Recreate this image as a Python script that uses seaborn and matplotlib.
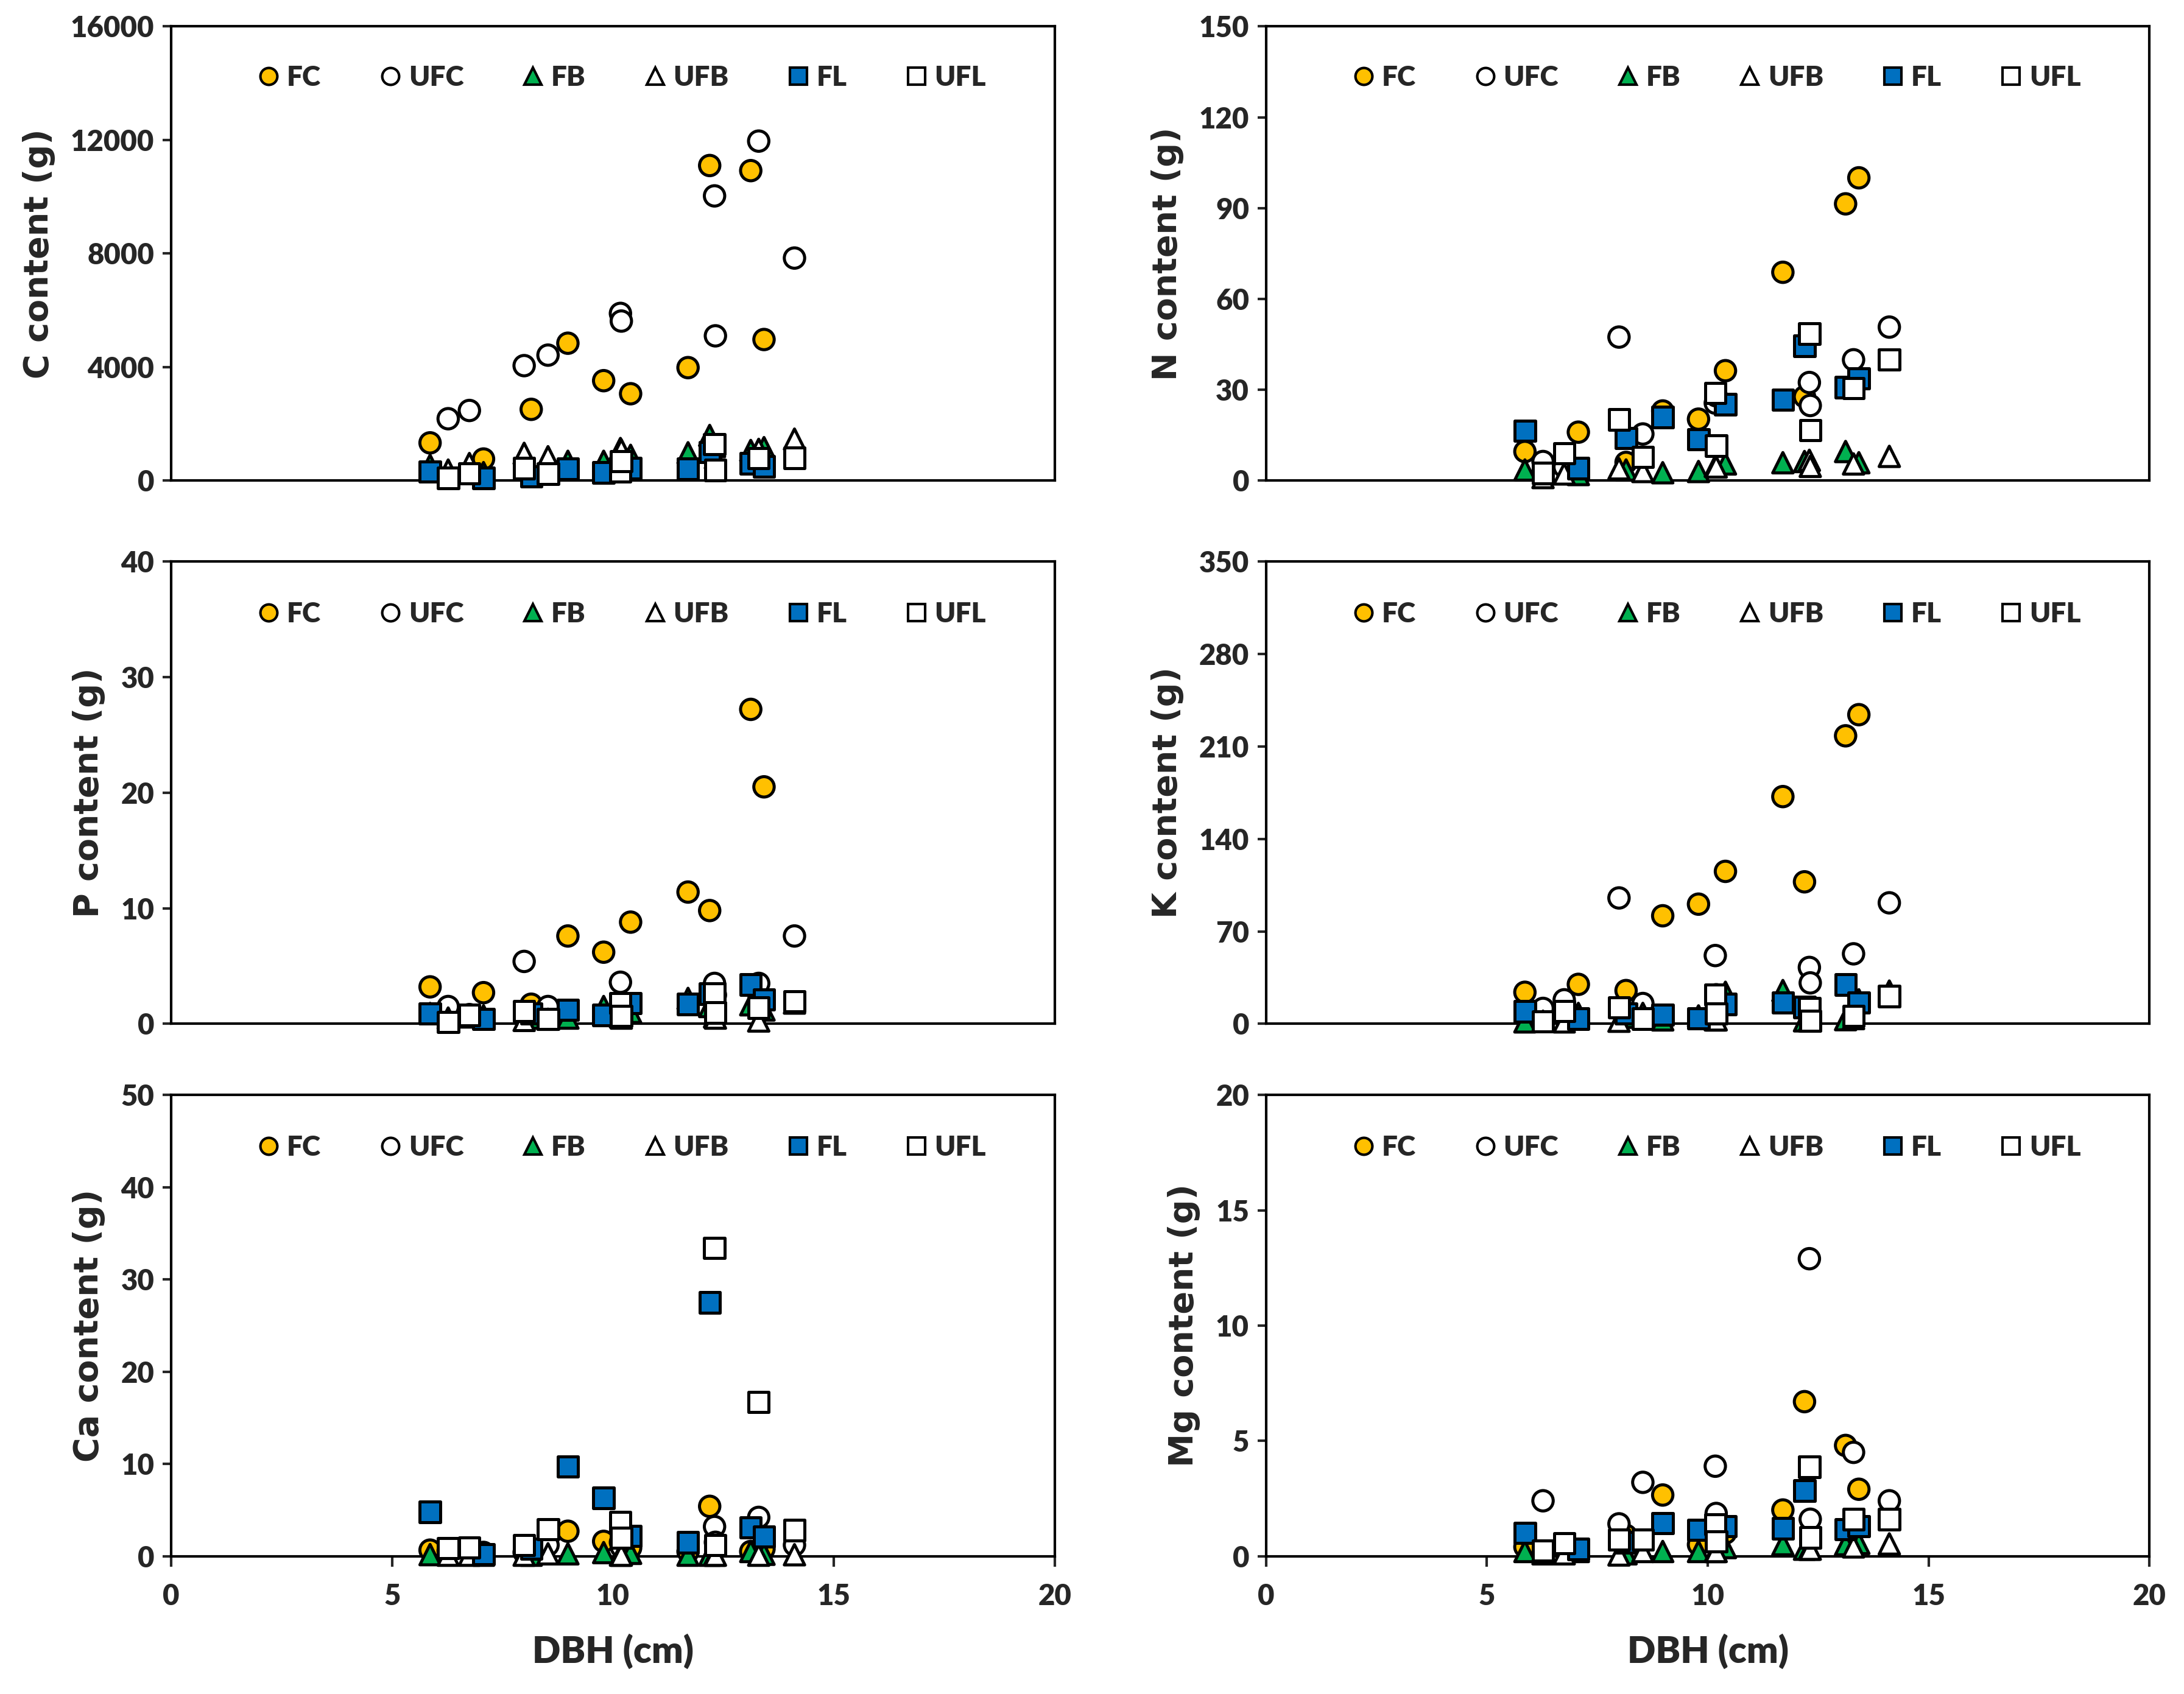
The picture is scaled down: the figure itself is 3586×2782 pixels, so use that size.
import pandas as pd
import matplotlib
matplotlib.use("Agg")
import matplotlib.pyplot as plt
from matplotlib.lines import Line2D
import seaborn as sns

# DBH (cm) of the fertilized (F) and unfertilized (UF) trees
F_DBH = [5.86, 7.07, 8.15, 8.98, 9.79, 10.40, 11.70, 12.19, 13.12, 13.42]
UF_DBH = [6.27, 6.75, 7.99, 8.53, 10.17, 10.19, 12.30, 12.32, 13.30, 14.11]

SERIES = ['FC', 'UFC', 'FB', 'UFB', 'FL', 'UFL']
COLORS = {'FC': '#FFC000', 'UFC': '#FFFFFF', 'FB': '#00B050',
          'UFB': '#FFFFFF', 'FL': '#0070C0', 'UFL': '#FFFFFF'}
MARKERS = {'FC': 'o', 'UFC': 'o', 'FB': '^', 'UFB': '^', 'FL': 's', 'UFL': 's'}

# nutrient contents (g), one list per series, in DBH order
C_FC = [1330, 760, 2510, 4840, 3520, 3060, 3980, 11100, 10920, 4970]
C_UFC = [2180, 2470, 4050, 4420, 5890, 5620, 10030, 5100, 11960, 7840]
C_FB = [540, 280, 420, 680, 680, 890, 980, 1590, 1060, 1160]
C_UFB = [370, 600, 960, 840, 1130, 1080, 1200, 800, 1100, 1460]
C_FL = [320, 90, 150, 410, 280, 430, 410, 1000, 610, 500]
C_UFL = [90, 250, 430, 240, 330, 680, 1280, 370, 790, 800]

N_FC = [9.6, 16.0, 6.0, 23.0, 20.3, 36.3, 68.8, 27.7, 91.4, 100.0]
N_UFC = [6.3, 4.5, 47.4, 15.4, 25.6, 28.0, 32.4, 24.8, 39.9, 50.7]
N_FB = [3.5, 2.0, 3.5, 2.6, 3.0, 5.5, 5.9, 6.3, 9.6, 5.9]
N_UFB = [1.0, 2.2, 3.9, 3.0, 4.7, 4.5, 6.7, 4.7, 5.5, 8.0]
N_FL = [16.4, 4.1, 14.0, 21.0, 13.6, 25.2, 26.7, 44.5, 30.8, 33.7]
N_UFL = [2.5, 9.0, 20.2, 7.8, 28.9, 11.5, 48.5, 16.6, 30.5, 40.0]

P_FC = [3.2, 2.7, 1.7, 7.6, 6.2, 8.8, 11.4, 9.8, 27.2, 20.5]
P_UFC = [1.5, 0.8, 5.4, 1.5, 3.6, 1.5, 3.5, 2.5, 3.5, 7.6]
P_FB = [0.9, 0.7, 0.5, 0.5, 1.5, 1.0, 2.2, 1.5, 1.65, 1.2]
P_UFB = [0.5, 0.6, 0.3, 0.4, 0.6, 0.5, 0.6, 0.5, 0.25, 1.8]
P_FL = [0.9, 0.43, 0.9, 1.2, 0.75, 1.8, 1.7, 2.6, 3.4, 2.1]
P_UFL = [0.15, 0.75, 1.1, 0.43, 1.8, 0.67, 2.6, 0.97, 1.4, 1.96]

K_FC = [23.9, 29.9, 25.2, 81.8, 90.6, 115.4, 172.0, 107.5, 218.0, 234.0]
K_UFC = [11.7, 18.2, 95.3, 15.4, 51.7, 22.0, 42.7, 31.0, 53.0, 91.6]
K_FB = [1.5, 7.9, 5.0, 3.0, 6.0, 23.9, 25.2, 2.3, 3.2, 18.2]
K_UFB = [2.0, 1.5, 2.0, 7.9, 3.0, 3.0, 2.3, 3.0, 4.0, 24.8]
K_FL = [9.4, 3.9, 7.9, 6.8, 4.1, 15.0, 16.0, 12.6, 29.7, 16.0]
K_UFL = [1.9, 9.6, 12.4, 3.9, 22.0, 7.9, 11.7, 2.3, 6.0, 21.0]

CA_FC = [0.65, 0.4, 0.8, 2.7, 1.6, 0.9, 0.5, 5.4, 0.5, 0.8]
CA_UFC = [0.6, 0.5, 0.4, 1.2, 1.5, 1.0, 3.2, 1.5, 4.2, 1.2]
CA_FB = [0.16, 0.1, 0.1, 0.25, 0.38, 0.3, 0.1, 0.1, 0.5, 0.2]
CA_UFB = [0.1, 0.1, 0.1, 0.25, 0.1, 0.1, 0.1, 0.1, 0.1, 0.15]
CA_FL = [4.8, 0.2, 0.8, 9.7, 6.3, 2.2, 1.5, 27.5, 3.1, 2.1]
CA_UFL = [0.86, 0.94, 1.2, 2.9, 3.7, 2.0, 33.4, 1.2, 16.7, 2.8]

MG_FC = [0.4, 0.3, 0.9, 2.65, 0.5, 1.0, 2.0, 6.7, 4.8, 2.9]
MG_UFC = [2.4, 0.5, 1.4, 3.2, 3.9, 1.85, 12.9, 1.6, 4.5, 2.4]
MG_FB = [0.2, 0.2, 0.1, 0.2, 0.2, 0.37, 0.5, 0.3, 0.5, 0.55]
MG_UFB = [0.1, 0.1, 0.05, 0.2, 0.2, 0.2, 0.3, 0.3, 0.4, 0.53]
MG_FL = [1.0, 0.3, 0.6, 1.43, 1.13, 1.3, 1.2, 2.84, 1.17, 1.3]
MG_UFL = [0.24, 0.55, 0.72, 0.71, 1.38, 0.63, 3.87, 0.81, 1.6, 1.6]

ELEMENTS = {
    'C': [C_FC, C_UFC, C_FB, C_UFB, C_FL, C_UFL],
    'N': [N_FC, N_UFC, N_FB, N_UFB, N_FL, N_UFL],
    'P': [P_FC, P_UFC, P_FB, P_UFB, P_FL, P_UFL],
    'K': [K_FC, K_UFC, K_FB, K_UFB, K_FL, K_UFL],
    'Ca': [CA_FC, CA_UFC, CA_FB, CA_UFB, CA_FL, CA_UFL],
    'Mg': [MG_FC, MG_UFC, MG_FB, MG_UFB, MG_FL, MG_UFL],
}
YMAX = {'C': 16000, 'N': 150, 'P': 40, 'K': 350, 'Ca': 50, 'Mg': 20}
YSTEP = {'C': 4000, 'N': 30, 'P': 10, 'K': 70, 'Ca': 10, 'Mg': 5}

# long table, rows kept in series order so later series draw on top
rows = []
for el, lists in ELEMENTS.items():
    for name, vals in zip(SERIES, lists):
        xs = UF_DBH if name.startswith('U') else F_DBH
        for x, v in zip(xs, vals):
            rows.append({'element': el, 'series': name, 'DBH': x, 'value': v})
df = pd.DataFrame(rows)

sns.set_style('white')
plt.rcParams['font.family'] = ['Lato', 'DejaVu Sans']
plt.rcParams['font.weight'] = 'heavy'
plt.rcParams['axes.labelweight'] = 'heavy'

fig = plt.figure(figsize=(17.93, 13.91), dpi=200)
lefts = [0.0784, 0.5797]
width = 0.4045
rows_pos = [(0.7163, 0.2681), (0.3956, 0.2730), (0.0814, 0.2722)]
layout = [['C', 'N'], ['P', 'K'], ['Ca', 'Mg']]

handles = [Line2D([], [], linestyle='none', marker=MARKERS[s],
                  markerfacecolor=COLORS[s], markeredgecolor='black',
                  markeredgewidth=1.5, markersize=10) for s in SERIES]

for r, (b, h) in enumerate(rows_pos):
    for c, l in enumerate(lefts):
        el = layout[r][c]
        ax = fig.add_axes([l, b, width, h])
        sub = df[df['element'] == el]
        sns.scatterplot(data=sub, x='DBH', y='value', hue='series', style='series',
                        hue_order=SERIES, style_order=SERIES, palette=COLORS,
                        markers=MARKERS, s=145, edgecolor='black', linewidth=1.8,
                        legend=False, ax=ax, zorder=3, clip_on=False)
        ax.set_xlim(0, 20)
        ax.set_ylim(0, YMAX[el])
        ax.set_xticks(range(0, 21, 5))
        ax.set_yticks(range(0, YMAX[el] + 1, YSTEP[el]))
        for sp in ax.spines.values():
            sp.set_visible(True)
            sp.set_color('black')
            sp.set_linewidth(1.5)
        ax.tick_params(axis='y', direction='out', length=5, width=1.5,
                       pad=5, labelsize=17, left=True)
        if r == 2:
            ax.tick_params(axis='x', direction='out', length=6, width=1.5,
                           pad=10, labelsize=17, bottom=True)
            ax.set_xlabel('DBH (cm)', fontsize=22, fontweight='heavy', labelpad=14)
        else:
            ax.tick_params(axis='x', bottom=False, labelbottom=False)
            ax.set_xlabel('')
        # the reference y titles are drawn in a wide face
        ax.set_ylabel(f'{el} content (g)', fontsize=20, fontweight='bold',
                      family=['DejaVu Sans'], labelpad=9)
        ax.legend(handles, SERIES, ncol=6, loc='lower left', mode='expand',
                  bbox_to_anchor=(0.085, 0.835, 0.85, 0.11), frameon=False,
                  handletextpad=0.25, handlelength=0.8, borderaxespad=0,
                  prop={'size': 16.5, 'weight': 'heavy'})

fig.savefig('out.png', dpi=200)
